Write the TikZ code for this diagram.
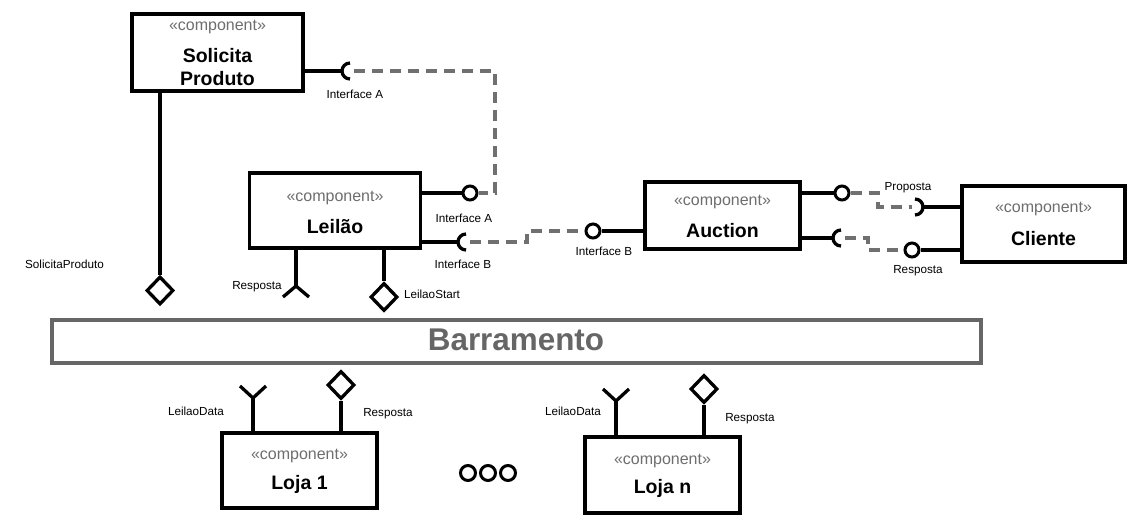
\documentclass[tikz,border=0pt]{standalone}
\usepackage{fontspec}
\setmainfont{Liberation Sans}
\usetikzlibrary{shapes.geometric}
\definecolor{stgray}{RGB}{110,110,110}
\definecolor{dashgray}{RGB}{112,112,112}
\definecolor{busgray}{RGB}{102,102,102}
\begin{document}
\begin{tikzpicture}[x=1pt,y=-1pt,
 comp/.style={draw, line width=3.3pt, rectangle, inner sep=0pt, fill=white},
 stereo/.style={text=stgray, font=\fontsize{16}{18}\selectfont, inner sep=0pt, anchor=base},
 cname/.style={font=\bfseries\fontsize{19.5}{22}\selectfont, inner sep=0pt, anchor=base},
 lbl/.style={font=\fontsize{11.7}{13}\selectfont, inner sep=0pt, anchor=base},
 wire/.style={line width=3.3pt},
 dashwire/.style={line width=3.3pt, dashgray, dash pattern=on 11pt off 7pt},
 ball/.style={circle, draw, line width=3pt, fill=white, minimum size=14pt, inner sep=0pt},
 dia/.style={diamond, draw, line width=3.3pt, fill=white, minimum width=27pt, minimum height=28pt, inner sep=0pt},
 dot/.style={circle, draw, line width=3pt, minimum size=15pt, inner sep=0pt},
]
\useasboundingbox (0,0) rectangle (1148,530);
\fill[white] (0,0) rectangle (1148,530);

% ---------- Barramento ----------
\node[draw=busgray, line width=3.3pt, minimum width=929pt, minimum height=43pt, inner sep=0pt] (bus) at (516.5,341.5) {};
\node[text=busgray, font=\bfseries\fontsize{31.4}{34}\selectfont, inner sep=0pt, anchor=base] (bustxt) at (516,350) {Barramento};

% ---------- Solicita Produto ----------
\node[comp, minimum width=171pt, minimum height=77pt] (sp) at (217.5,52.5) {};
\node[stereo] (spst) at (217.5,30) {«component»};
\node[cname] (spn1) at (217.5,62) {Solicita};
\node[cname] (spn2) at (217.5,85) {Produto};

% ---------- Leilao ----------
\node[comp, minimum width=171pt, minimum height=75pt] (le) at (335,210.5) {};
\node[stereo] (lest) at (335,201) {«component»};
\node[cname] (len) at (335,233) {Leilão};

% ---------- Auction ----------
\node[comp, minimum width=155pt, minimum height=67pt] (au) at (722.5,215.5) {};
\node[stereo] (aust) at (722.5,205) {«component»};
\node[cname] (aun) at (722.5,237) {Auction};

% ---------- Cliente ----------
\node[comp, minimum width=163pt, minimum height=76pt] (cl) at (1043.5,224) {};
\node[stereo] (clst) at (1043.5,212) {«component»};
\node[cname] (cln) at (1043.5,245) {Cliente};

% ---------- Loja 1 ----------
\node[comp, minimum width=155pt, minimum height=75pt] (l1) at (299.5,470.5) {};
\node[stereo] (l1st) at (299.5,459) {«component»};
\node[cname] (l1n) at (299.5,489) {Loja 1};

% ---------- Loja n ----------
\node[comp, minimum width=155pt, minimum height=76pt] (ln) at (662.5,475) {};
\node[stereo] (lnst) at (662.5,464) {«component»};
\node[cname] (lnn) at (662.5,493) {Loja n};

% ---------- Solicita Produto: socket Interface A ----------
\coordinate (spsock) at (342,71);
\draw[wire] (sp.east |- spsock) -- (spsock);
\draw[wire] (spsock) ++(8,8) arc (90:270:8);
\node[lbl] (lspA) at (355,98) {Interface A};

% ---------- Leilao: ball Interface A ----------
\node[ball] (leA) at (470,193) {};
\draw[wire] (le.east |- leA) -- (leA.west);
\node[lbl] (lleA) at (464,222) {Interface A};

% ---------- Leilao: socket Interface B ----------
\coordinate (lesock) at (458,242);
\draw[wire] (le.east |- lesock) -- (lesock);
\draw[wire] (lesock) ++(8,8) arc (90:270:8);
\node[lbl] (lleB) at (463,268) {Interface B};

% dashed Interface A
\draw[dashwire] (354,71) -- (495,71) -- (495,193) -- (leA.east);

% ---------- Auction: ball Interface B ----------
\node[ball] (auB) at (593,231) {};
\draw[wire] (auB.east) -- (au.west |- auB);
\node[lbl] (lauB) at (604,255) {Interface B};
\draw[dashwire] (470,242) -- (527,242) -- (527,231) -- (auB.west);

% ---------- Auction right side ----------
\node[ball] (auP) at (842,193) {};
\draw[wire] (au.east |- auP) -- (auP.west);
\coordinate (ausock) at (833,238);
\draw[wire] (au.east |- ausock) -- (ausock);
\draw[wire] (ausock) ++(8,8) arc (90:270:8);

% ---------- Cliente left side ----------
\coordinate (clsock) at (923,207);
\draw[wire] (cl.west |- clsock) -- (clsock);
\draw[wire] (clsock) ++(-8,8) arc (90:-90:8);
\node[lbl] (lclP) at (908,190) {Proposta};
\node[ball] (clR) at (912,250) {};
\draw[wire] (clR.east) -- (cl.west |- clR);
\node[lbl] (lclR) at (918,273) {Resposta};

\draw[dashwire] (auP.east) -- (878,193) -- (878,207) -- (912,207);
\draw[dashwire] (845,238) -- (868,238) -- (868,250) -- (clR.west);

% ---------- Solicita Produto stem ----------
\node[dia] (spdia) at (160,290.5) {};
\draw[wire] (sp.south -| spdia) -- (spdia.north);
\node[lbl] (lspP) at (64.5,268) {SolicitaProduto};

% ---------- Leilao stems ----------
\coordinate (leRv) at (296,286);
\draw[wire] (le.south -| leRv) -- (leRv);
\draw[wire] (283,297) -- (leRv) -- (309,297);
\node[lbl] (leRl) at (257,289) {Resposta};
\node[dia] (ledia) at (384,297) {};
\draw[wire] (le.south -| ledia) -- (ledia.north);
\node[lbl] (ledial) at (432,298) {LeilaoStart};

% ---------- Loja 1 stems ----------
\coordinate (l1v) at (253,398);
\draw[wire] (l1.north -| l1v) -- (l1v);
\draw[wire] (240,386) -- (l1v) -- (266,386);
\node[lbl] (l1dl) at (196,415) {LeilaoData};
\node[dia] (l1dia) at (341,385) {};
\draw[wire] (l1.north -| l1dia) -- (l1dia.south);
\node[lbl] (l1rl) at (388,416) {Resposta};

% ---------- Loja n stems ----------
\coordinate (lnv) at (616,401);
\draw[wire] (ln.north -| lnv) -- (lnv);
\draw[wire] (603,389) -- (lnv) -- (629,389);
\node[lbl] (lndl) at (573,415) {LeilaoData};
\node[dia] (lndia) at (704,389) {};
\draw[wire] (ln.north -| lndia) -- (lndia.south);
\node[lbl] (lnrl) at (750,421) {Resposta};

% ---------- ellipsis ----------
\node[dot] (e1) at (468,473) {};
\node[dot] (e2) at (488,473) {};
\node[dot] (e3) at (508,473) {};
\end{tikzpicture}
\end{document}
